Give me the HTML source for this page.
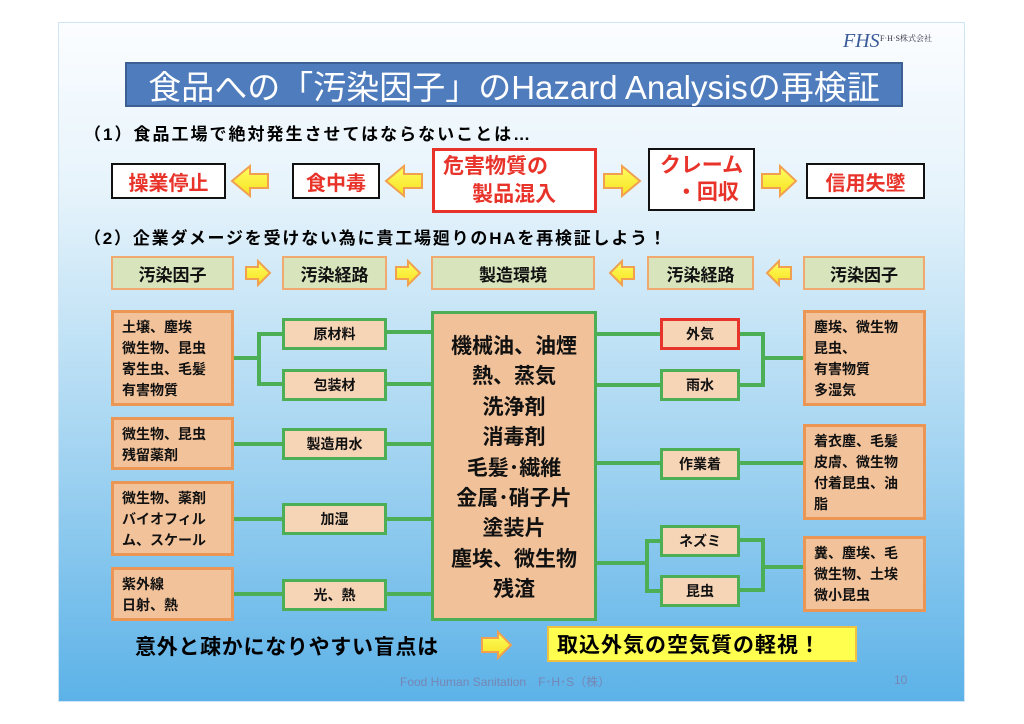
<!DOCTYPE html>
<html><head><meta charset="utf-8"><style>
*{margin:0;padding:0;box-sizing:border-box}
body{width:1024px;height:724px;background:#fff;position:relative;overflow:hidden;font-family:"Liberation Sans","Noto Sans CJK JP",sans-serif;font-weight:bold}
#slide{position:absolute;left:58px;top:22px;width:907px;height:680px;background:linear-gradient(#fbfdff 0%,#e6f3fb 25%,#a9d7f2 60%,#5cb2e8 100%);border:1px solid #cfe5f5}
.a{position:absolute;display:flex;align-items:center;justify-content:center;text-align:center}
.hd{background:#d8e4bc;border:2px solid #f0aa70;font-size:17px;color:#111}
.f{background:#f2c29a;border:3px solid #eb9655;font-size:14px;color:#111;justify-content:flex-start;align-items:flex-start;text-align:left;padding:4px 0 0 8px;line-height:21px}
.r{background:#f6d5b6;border:3px solid #4daf55;font-size:14px;color:#111}
.w{background:#fff;border:2px solid #111;color:#e8332a;font-size:20px}
.l{position:absolute;background:#4daf55}
.t{position:absolute;white-space:nowrap}
</style></head><body>
<div id="slide"></div>
<div class="t" style="left:843px;top:30px;font-family:'Liberation Serif',serif;font-style:italic;color:#3a5a9a;font-size:20px;font-weight:normal">FHS</div>
<div class="t" style="left:880px;top:33px;font-family:'Liberation Serif','Noto Serif CJK SC',serif;color:#334;font-size:8px;font-weight:normal">F·H·S株式会社</div>
<div class="a" style="left:125px;top:62px;width:778px;height:45px;background:#4f7cbc;border:2px solid #3c5f94;color:#fff;font-size:33px;font-weight:normal">食品への「汚染因子」のHazard Analysisの再検証</div>
<div class="t" style="left:84px;top:120px;font-size:17px;letter-spacing:2px">（1）食品工場で絶対発生させてはならないことは…</div>
<div class="a w" style="left:111px;top:163px;width:115px;height:36px">操業停止</div>
<div class="a w" style="left:292px;top:163px;width:88px;height:36px">食中毒</div>
<div class="a w" style="left:432px;top:148px;width:165px;height:65px;border:3px solid #e8332a;line-height:28px;display:block;padding:2px 0 0 8px;text-align:left;font-size:21px">危害物質の<br>&nbsp;&nbsp;&nbsp;&nbsp;&nbsp;製品混入</div>
<div class="a w" style="left:648px;top:148px;width:107px;height:63px;line-height:27px;display:block;padding-top:2px;font-size:21px">クレーム<br>&nbsp;&nbsp;・回収</div>
<div class="a w" style="left:806px;top:163px;width:119px;height:36px">信用失墜</div>
<svg style="position:absolute;left:0;top:0" width="1024" height="724">
<defs><linearGradient id="g" x1="0" x2="0" y1="0" y2="1"><stop offset="0" stop-color="#ffff60"/><stop offset="1" stop-color="#f6e020"/></linearGradient></defs>
<g fill="url(#g)" stroke="#f0a050" stroke-width="2">
<polygon points="268,174 250,174 250,166 232,181 250,196 250,188 268,188"/>
<polygon points="422,174 404,174 404,166 386,181 404,196 404,188 422,188"/>
<polygon points="604,174 622,174 622,166 640,181 622,196 622,188 604,188"/>
<polygon points="762,174 780,174 780,166 796,181 780,196 780,188 762,188"/>
<polygon points="246,267 258,267 258,261 270,273 258,285 258,279 246,279"/>
<polygon points="396,267 408,267 408,261 420,273 408,285 408,279 396,279"/>
<polygon points="634,267 622,267 622,261 610,273 622,285 622,279 634,279"/>
<polygon points="791,267 779,267 779,261 767,273 779,285 779,279 791,279"/>
<polygon points="482,638 498,638 498,632 511,645 498,658 498,652 482,652"/>
</g></svg>
<div class="t" style="left:84px;top:224px;font-size:17px;letter-spacing:1.8px">（2）企業ダメージを受けない為に貴工場廻りのHAを再検証しよう！</div>
<div class="a hd" style="left:111px;top:256px;width:123px;height:34px">汚染因子</div>
<div class="a hd" style="left:282px;top:256px;width:105px;height:34px">汚染経路</div>
<div class="a hd" style="left:431px;top:256px;width:164px;height:34px">製造環境</div>
<div class="a hd" style="left:647px;top:256px;width:107px;height:34px">汚染経路</div>
<div class="a hd" style="left:803px;top:256px;width:122px;height:34px">汚染因子</div>
<div class="l" style="left:234px;top:356px;width:26px;height:4px"></div>
<div class="l" style="left:257px;top:332px;width:4px;height:54px"></div>
<div class="l" style="left:257px;top:332px;width:26px;height:4px"></div>
<div class="l" style="left:257px;top:382px;width:26px;height:4px"></div>
<div class="l" style="left:234px;top:442px;width:50px;height:4px"></div>
<div class="l" style="left:234px;top:517px;width:50px;height:4px"></div>
<div class="l" style="left:234px;top:592px;width:50px;height:4px"></div>
<div class="l" style="left:386px;top:330px;width:46px;height:4px"></div>
<div class="l" style="left:386px;top:382px;width:46px;height:4px"></div>
<div class="l" style="left:386px;top:442px;width:46px;height:4px"></div>
<div class="l" style="left:386px;top:517px;width:46px;height:4px"></div>
<div class="l" style="left:386px;top:592px;width:46px;height:4px"></div>
<div class="l" style="left:596px;top:332px;width:65px;height:4px"></div>
<div class="l" style="left:596px;top:383px;width:65px;height:4px"></div>
<div class="l" style="left:596px;top:461px;width:65px;height:4px"></div>
<div class="l" style="left:596px;top:561px;width:51px;height:4px"></div>
<div class="l" style="left:645px;top:539px;width:4px;height:53px"></div>
<div class="l" style="left:645px;top:539px;width:16px;height:4px"></div>
<div class="l" style="left:645px;top:589px;width:16px;height:4px"></div>
<div class="l" style="left:739px;top:332px;width:25px;height:4px"></div>
<div class="l" style="left:739px;top:383px;width:25px;height:4px"></div>
<div class="l" style="left:761px;top:332px;width:4px;height:55px"></div>
<div class="l" style="left:761px;top:356px;width:43px;height:4px"></div>
<div class="l" style="left:739px;top:461px;width:65px;height:4px"></div>
<div class="l" style="left:739px;top:538px;width:25px;height:4px"></div>
<div class="l" style="left:739px;top:588px;width:25px;height:4px"></div>
<div class="l" style="left:761px;top:538px;width:4px;height:54px"></div>
<div class="l" style="left:761px;top:565px;width:43px;height:4px"></div>
<div class="a f" style="left:111px;top:310px;width:123px;height:96px">土壌、塵埃<br>微生物、昆虫<br>寄生虫、毛髪<br>有害物質</div>
<div class="a f" style="left:111px;top:417px;width:123px;height:53px">微生物、昆虫<br>残留薬剤</div>
<div class="a f" style="left:111px;top:481px;width:123px;height:75px">微生物、薬剤<br>バイオフィル<br>ム、スケール</div>
<div class="a f" style="left:111px;top:567px;width:123px;height:54px">紫外線<br>日射、熱</div>
<div class="a r" style="left:282px;top:318px;width:105px;height:32px">原材料</div>
<div class="a r" style="left:282px;top:369px;width:105px;height:32px">包装材</div>
<div class="a r" style="left:282px;top:428px;width:105px;height:32px">製造用水</div>
<div class="a r" style="left:282px;top:503px;width:105px;height:32px">加湿</div>
<div class="a r" style="left:282px;top:579px;width:105px;height:32px">光、熱</div>
<div class="a r" style="left:431px;top:311px;width:166px;height:310px;background:#f1c29a;font-size:21px;line-height:30.4px;align-items:flex-start;padding-top:18px">機械油、油煙<br>熱、蒸気<br>洗浄剤<br>消毒剤<br>毛髪･繊維<br>金属･硝子片<br>塗装片<br>塵埃、微生物<br>残渣</div>
<div class="a r" style="left:660px;top:318px;width:80px;height:32px;border-color:#e8332a">外気</div>
<div class="a r" style="left:660px;top:369px;width:80px;height:32px">雨水</div>
<div class="a r" style="left:660px;top:448px;width:80px;height:32px">作業着</div>
<div class="a r" style="left:660px;top:525px;width:80px;height:32px">ネズミ</div>
<div class="a r" style="left:660px;top:575px;width:80px;height:32px">昆虫</div>
<div class="a f" style="left:803px;top:310px;width:123px;height:96px">塵埃、微生物<br>昆虫、<br>有害物質<br>多湿気</div>
<div class="a f" style="left:803px;top:424px;width:123px;height:96px">着衣塵、毛髪<br>皮膚、微生物<br>付着昆虫、油<br>脂</div>
<div class="a f" style="left:803px;top:536px;width:123px;height:76px">糞、塵埃、毛<br>微生物、土埃<br>微小昆虫</div>
<div class="t" style="left:135px;top:631px;font-size:21px;letter-spacing:0.7px">意外と疎かになりやすい盲点は</div>
<div class="a" style="left:547px;top:626px;width:310px;height:36px;background:#ffff50;border:2px solid #f0c040;font-size:21px;letter-spacing:1px;justify-content:flex-start;padding-left:8px">取込外気の空気質の軽視！</div>
<div class="t" style="left:400px;top:673px;font-size:12px;color:#7686b4;font-weight:normal">Food Human Sanitation　F･H･S（株）</div>
<div class="t" style="left:894px;top:673px;font-size:12px;color:#7686b4;font-weight:normal">10</div>
</body></html>
